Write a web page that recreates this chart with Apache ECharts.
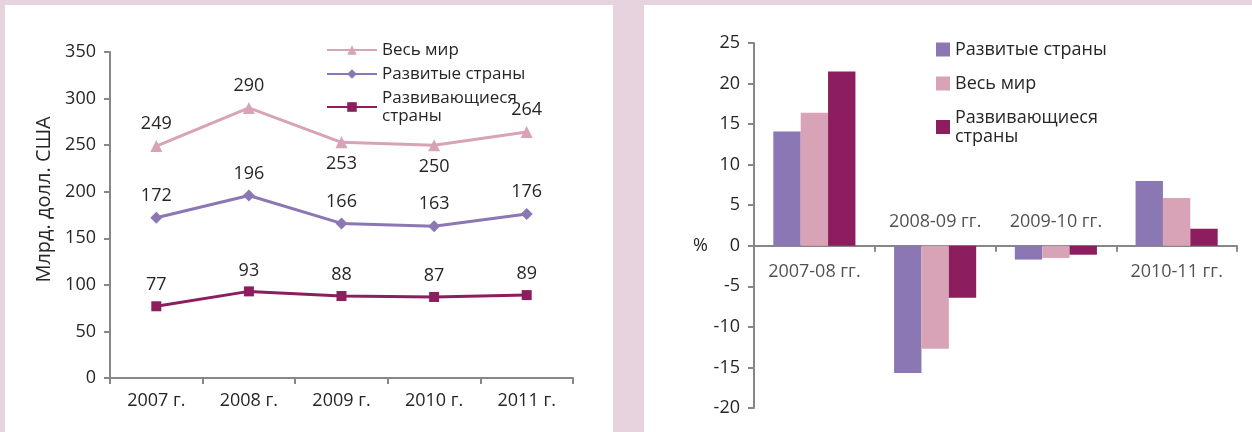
<!DOCTYPE html>
<html>
<head>
<meta charset="utf-8">
<script src="https://cdn.jsdelivr.net/npm/echarts@6/dist/echarts.min.js"></script>
<style>
html,body{margin:0;padding:0;background:#e6d3dd;}
#c{width:1252px;height:432px;}
</style>
</head>
<body>
<div id="c"></div>
<script>
// Left chart data (млрд. долл. США)
const years = ['2007 г.', '2008 г.', '2009 г.', '2010 г.', '2011 г.'];
const world = [249, 290, 253, 250, 264];
const developed = [172, 196, 166, 163, 176];
const developing = [77, 93, 88, 87, 89];
const worldLabelPos = ['top', 'top', 'bottom', 'bottom', 'top'];
const leftTicks = [0, 50, 100, 150, 200, 250, 300, 350];

// Right chart data (%)
const periods = ['2007-08 гг.', '2008-09 гг.', '2009-10 гг.', '2010-11 гг.'];
const periodLabelPos = ['bottom', 'top', 'top', 'bottom'];
const devGrowth = [14.1, -15.7, -1.7, 8.0];
const worldGrowth = [16.4, -12.7, -1.5, 5.9];
const dvgGrowth = [21.5, -6.4, -1.1, 2.1];

const C_WORLD = '#d9a3b7';
const C_DEV = '#8b77b4';
const C_DVG = '#8c1d5f';
const AX = '#878787';
const FONT = 'Open Sans';
const TXT = '#262626';
const FS_L = 18;
const FS_LEG = 17;
const FS_R = 18;

const chart = echarts.init(document.getElementById('c'), null, {renderer: 'canvas'});

const lbl = {show: true, color: TXT, fontFamily: FONT, fontSize: FS_L, distance: 7};

const option = {
  backgroundColor: '#e6d3dd',
  animation: false,
  textStyle: {fontFamily: FONT, color: TXT},
  graphic: [
    {type: 'rect', z: -10, shape: {x: 5, y: 5, width: 608, height: 427}, style: {fill: '#ffffff'}},
    {type: 'rect', z: -10, shape: {x: 644, y: 5, width: 608, height: 427}, style: {fill: '#ffffff'}}
  ],
  legend: [
    {
      orient: 'vertical', left: 321, top: 36, itemWidth: 50, itemHeight: 12, itemGap: 6,
      textStyle: {fontFamily: FONT, fontSize: FS_LEG, color: TXT, lineHeight: 18},
      data: ['Весь мир', 'Развитые страны', 'Развивающиеся\nстраны']
    },
    {
      orient: 'vertical', left: 931, top: 35, itemWidth: 14, itemHeight: 14, itemGap: 15,
      icon: 'rect',
      textStyle: {fontFamily: FONT, fontSize: FS_R, color: TXT, lineHeight: 19},
      data: ['Развитые страны ', 'Весь мир ', 'Развивающиеся\nстраны ']
    }
  ],
  grid: [
    {left: 110, top: 52, width: 463, height: 326, outerBoundsMode: 'none'},
    {left: 754, top: 43, right: 15, bottom: 24, outerBoundsMode: 'none'}
  ],
  xAxis: [
    {
      type: 'category', gridIndex: 0, data: years, boundaryGap: true,
      axisLine: {lineStyle: {color: AX, width: 2}},
      axisTick: {show: true, length: 6, lineStyle: {color: AX, width: 2}},
      axisLabel: {color: TXT, fontFamily: FONT, fontSize: FS_L, margin: 14}
    },
    {
      type: 'category', gridIndex: 1, data: periods, boundaryGap: true,
      axisLine: {onZero: true, lineStyle: {color: AX, width: 2}},
      axisTick: {show: true, length: 6, lineStyle: {color: AX, width: 2}},
      axisLabel: {show: false}
    }
  ],
  yAxis: [
    {
      type: 'value', gridIndex: 0, min: leftTicks[0], max: leftTicks[leftTicks.length - 1], interval: 50,
      name: '      Млрд. долл. США', nameLocation: 'middle', nameGap: 56,
      nameTextStyle: {fontFamily: FONT, fontSize: 20, color: TXT},
      axisLine: {show: true, lineStyle: {color: AX, width: 2}},
      axisTick: {show: true, length: 6, lineStyle: {color: AX, width: 2}},
      splitLine: {show: false},
      axisLabel: {color: TXT, fontFamily: FONT, fontSize: FS_L, margin: 14}
    },
    {
      type: 'value', gridIndex: 1, min: -20, max: 25, interval: 5,
      name: ' \n%', nameLocation: 'middle', nameRotate: 0, nameGap: 46,
      nameTextStyle: {fontFamily: FONT, fontSize: FS_R, color: TXT, lineHeight: 41},
      axisLine: {show: true, lineStyle: {color: AX, width: 2}},
      axisTick: {show: true, length: 6, lineStyle: {color: AX, width: 2}},
      splitLine: {show: false},
      axisLabel: {color: TXT, fontFamily: FONT, fontSize: FS_R, margin: 14}
    }
  ],
  series: [
    {
      name: 'Весь мир', type: 'line', xAxisIndex: 0, yAxisIndex: 0,
      data: world.map((v, i) => ({value: v, label: {position: worldLabelPos[i]}})),
      symbol: 'triangle', symbolSize: 12,
      lineStyle: {color: C_WORLD, width: 3}, itemStyle: {color: C_WORLD},
      label: lbl
    },
    {
      name: 'Развитые страны', type: 'line', xAxisIndex: 0, yAxisIndex: 0,
      data: developed, symbol: 'diamond', symbolSize: 12,
      lineStyle: {color: C_DEV, width: 3}, itemStyle: {color: C_DEV},
      label: Object.assign({}, lbl, {position: 'top'})
    },
    {
      name: 'Развивающиеся\nстраны', type: 'line', xAxisIndex: 0, yAxisIndex: 0,
      data: developing, symbol: 'rect', symbolSize: 10,
      lineStyle: {color: C_DVG, width: 3}, itemStyle: {color: C_DVG},
      label: Object.assign({}, lbl, {position: 'top'})
    },
    {
      name: 'Развитые страны ', type: 'bar', xAxisIndex: 1, yAxisIndex: 1,
      data: devGrowth, itemStyle: {color: C_DEV}, barGap: '0%', barCategoryGap: '32%'
    },
    {
      name: 'Весь мир ', type: 'bar', xAxisIndex: 1, yAxisIndex: 1,
      data: worldGrowth, itemStyle: {color: C_WORLD}, barGap: '0%', barCategoryGap: '32%'
    },
    {
      name: 'Развивающиеся\nстраны ', type: 'bar', xAxisIndex: 1, yAxisIndex: 1,
      data: dvgGrowth, itemStyle: {color: C_DVG}, barGap: '0%', barCategoryGap: '32%'
    },
    {
      name: 'periodLabels', type: 'scatter', xAxisIndex: 1, yAxisIndex: 1, silent: true,
      symbol: 'circle', symbolSize: 0, z: 5,
      data: periods.map((p, i) => ({value: [p, 0], label: {position: periodLabelPos[i], distance: periodLabelPos[i] === 'bottom' ? 17 : 15}})),
      label: {show: true, color: TXT, fontFamily: FONT, fontSize: FS_R,
        formatter: (p) => periods[p.dataIndex]}
    }
  ]
};
chart.setOption(option);
</script>
</body>
</html>
